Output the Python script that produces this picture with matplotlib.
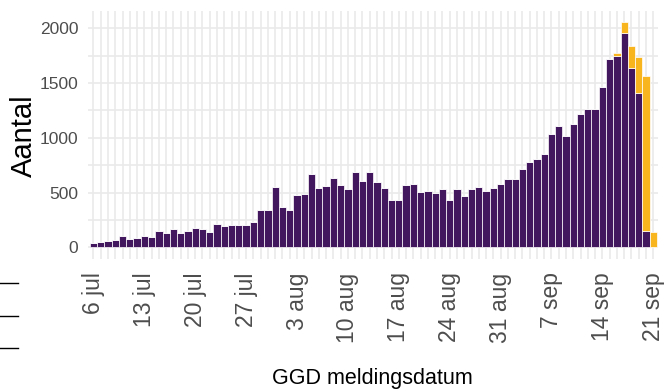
import matplotlib
matplotlib.use("Agg")
import matplotlib.pyplot as plt
from matplotlib.lines import Line2D
import numpy as np
import pandas as pd

plt.rcParams['font.family'] = ['Liberation Sans', 'DejaVu Sans']

# Daily reported counts (GGD meldingsdatum), 6 jul .. 21 sep
dates = pd.date_range('2020-07-06', '2020-09-21', freq='D')
gemeld = [43, 52, 58, 64, 100, 73, 85, 100, 94, 150,
          134, 165, 134, 152, 177, 165, 140, 217, 195, 201,
          207, 207, 235, 345, 345, 552, 369, 339, 476, 488,
          671, 543, 561, 631, 573, 528, 686, 607, 686, 592,
          546, 436, 436, 567, 579, 506, 515, 500, 528, 436,
          537, 469, 531, 555, 518, 543, 576, 625, 625, 714,
          780, 811, 848, 1034, 1110, 1018, 1128, 1220, 1263, 1263,
          1461, 1723, 1750, 1961, 1640, 1412, 149, 0]
nog_verwacht = [0] * 72 + [22, 95, 199, 324, 1418, 140]

maanden = {7: 'jul', 8: 'aug', 9: 'sep'}
tick_dates = pd.date_range('2020-07-06', '2020-09-21', freq='7D')
tick_labels = [f"{d.day} {maanden[d.month]}" for d in tick_dates]

purple = '#43175E'
yellow = '#F9B51E'
grid_c = '#EAEAEA'
text_c = '#4D4D4D'

x = np.array([(d - dates[0]).days for d in dates])
xt = np.array([(d - dates[0]).days for d in tick_dates])
gemeld = np.array(gemeld)
nog_verwacht = np.array(nog_verwacht)

fig = plt.figure(figsize=(6.65, 3.90), dpi=100)
ax = fig.add_axes([0.1323, 0.337, 0.8572, 0.635])

ax.bar(x, gemeld, width=1.0, color=purple, edgecolor='white', linewidth=0.5, zorder=2)
ax.bar(x, nog_verwacht, bottom=gemeld, width=1.0, color=yellow, edgecolor='white',
       linewidth=0.5, zorder=2)

ax.set_xlim(-0.75, 77.65)
ax.set_ylim(-103, 2159)

ax.set_xticks(xt)
ax.set_xticklabels(tick_labels, rotation=90, ha='center', va='top', color=text_c, fontsize=16.5)
ax.set_xticks(x, minor=True)
ax.set_yticks([0, 500, 1000, 1500, 2000])
ax.set_yticklabels(['0', '500', '1000', '1500', '2000'], color=text_c, fontsize=12.5)
ax.set_yticks([250, 750, 1250, 1750], minor=True)

ax.tick_params(axis='both', which='both', length=0)
ax.tick_params(axis='y', pad=7)
ax.tick_params(axis='x', pad=10)

ax.set_axisbelow(True)
ax.grid(True, which='both', color=grid_c, linewidth=1.2)
for s in ax.spines.values():
    s.set_visible(False)

fig.text(24 / 665, 1 - 136 / 390, 'Aantal', rotation=90, ha='center', va='center',
         fontsize=21, color='black')
fig.text(372 / 665, 1 - 384 / 390, 'GGD meldingsdatum', ha='center', va='baseline',
         fontsize=15.5, color='black')

# small dashes at the left edge (present in the reference image)
for yy in [283, 316, 348]:
    fig.add_artist(Line2D([0 / 665, 18 / 665], [1 - yy / 390, 1 - yy / 390],
                          color='black', linewidth=1.0))

fig.savefig('out.png', dpi=100)
